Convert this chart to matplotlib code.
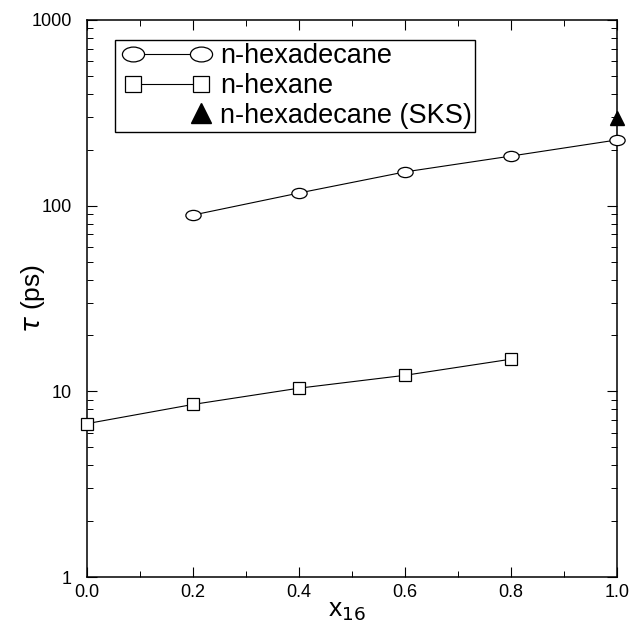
import numpy as np
import matplotlib
matplotlib.use("Agg")
import matplotlib.pyplot as plt
from matplotlib.path import Path
from matplotlib.legend_handler import HandlerLine2D
from matplotlib.ticker import LogLocator, NullFormatter, MultipleLocator, FixedLocator

plt.rcParams['font.family'] = ['Liberation Sans', 'DejaVu Sans']

# data
x_hexadecane = [0.2, 0.4, 0.6, 0.8, 1.0]
tau_hexadecane = [89, 117, 152, 185, 226]
x_hexane = [0.0, 0.2, 0.4, 0.6, 0.8]
tau_hexane = [6.7, 8.5, 10.4, 12.2, 14.9]
x_sks = [1.0]
tau_sks = [296]

# ellipse marker (wider than tall)
circ = Path.unit_circle()
ellipse = Path(circ.vertices * np.array([1.0, 0.67]), circ.codes)


class RightMarker(HandlerLine2D):
    # only keep the right hand marker in the legend
    def create_artists(self, legend, orig_handle, xdescent, ydescent, width, height, fontsize, trans):
        arts = super().create_artists(legend, orig_handle, xdescent, ydescent, width, height, fontsize, trans)
        for a in arts:
            n = len(a.get_xdata())
            a.set_markevery([n - 1])
        return arts


fig = plt.figure(figsize=(6.41, 6.25), dpi=100)
ax = fig.add_axes([0.1357, 0.0768, 0.8269, 0.8912])

l1, = ax.plot(x_hexadecane, tau_hexadecane, color='black', lw=0.8, marker=ellipse,
              ms=11, mfc='white', mec='black', mew=0.9, label='n-hexadecane', clip_on=False, zorder=3)
l2, = ax.plot(x_hexane, tau_hexane, color='black', lw=0.8, marker='s',
              ms=8, mfc='white', mec='black', mew=0.9, label='n-hexane', clip_on=False, zorder=3)
l3, = ax.plot(x_sks, tau_sks, ls='none', marker='^', ms=9.5, color='black',
              label='n-hexadecane (SKS)', clip_on=False, zorder=4)

ax.set_yscale('log')
ax.set_xlim(0, 1.0)
ax.set_ylim(1, 1000)
ax.set_xticks([0.0, 0.2, 0.4, 0.6, 0.8, 1.0])
ax.set_xticklabels(['0.0', '0.2', '0.4', '0.6', '0.8', '1.0'])
ax.xaxis.set_minor_locator(MultipleLocator(0.1))
ax.yaxis.set_major_locator(FixedLocator([1, 10, 100, 1000]))
ax.set_yticklabels(['1', '10', '100', '1000'])
ax.yaxis.set_minor_locator(LogLocator(base=10, subs=np.arange(2, 10)))
ax.yaxis.set_minor_formatter(NullFormatter())

ax.tick_params(which='both', direction='in', top=True, right=True, labelsize=13)
ax.tick_params(axis='y', which='major', pad=11)
ax.tick_params(axis='x', which='major', pad=5)
ax.tick_params(which='major', length=7, width=0.8)
ax.tick_params(which='minor', length=4, width=0.7)
for s in ax.spines.values():
    s.set_linewidth(1.1)

ax.set_xlabel(r'x$_{16}$', fontsize=19)
ax.xaxis.set_label_coords(0.49, -0.039)
ax.set_ylabel(r'$\tau$ (ps)', fontsize=19)
ax.yaxis.set_label_coords(-0.075, 0.5)

hm = {l1: HandlerLine2D(numpoints=2, marker_pad=0.53),
      l2: HandlerLine2D(numpoints=2, marker_pad=0.53),
      l3: RightMarker(numpoints=2, marker_pad=0.53)}
leg = ax.legend(handles=[l1, l2, l3], handler_map=hm, loc='upper left',
                bbox_to_anchor=(0.053, 0.964), fontsize=19.5,
                handlelength=3.6, markerscale=1.45, frameon=True, fancybox=False,
                edgecolor='black', borderpad=0.12, labelspacing=0.14, handletextpad=0.15,
                borderaxespad=0, framealpha=1)
leg.get_frame().set_linewidth(1.0)

fig.savefig('out.png', dpi=100)
